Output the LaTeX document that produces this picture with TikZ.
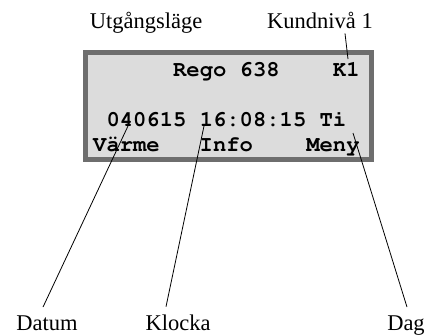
\documentclass[tikz,border=0pt]{standalone}
\usepackage[T1,TU]{fontenc}
\usepackage{fontspec}
\setmainfont{Liberation Serif}
\newcommand\lcdfont{\fontencoding{T1}\fontfamily{pcr}\fontseries{b}\selectfont}
\definecolor{lcdback}{HTML}{DCDCDC}
\definecolor{lcdframe}{HTML}{6E6E6E}

\begin{document}
\begin{tikzpicture}[
            x=1pt,y=-1pt,
            caption/.style={font=\fontsize{22.5}{26}\selectfont,inner sep=0pt,anchor=base},
            lcdrow/.style={font=\fontsize{22.2}{25}\lcdfont,inner sep=0pt,anchor=base west},
            pointer/.style={line width=0.8pt}
        ]
            \useasboundingbox (0,0) rectangle (426,335);

            % display
            \draw [lcdframe,line width=5pt,fill=lcdback] (85.5,52.5) rectangle (371.5,159.5);
            \node[lcdrow] (row1) at (93,76) {~~~~~~Rego~638~~~~K1};
            \node[lcdrow] (row2) at (93,126) {~040615~16:08:15~Ti};
            \node[lcdrow] (row3) at (93,151) {Värme~~~Info~~~~Meny};

            % captions
            \node[caption] (utg) at (146,28) {Utgångsläge};
            \node[caption] (kund) at (320,28) {Kundnivå 1};
            \node[caption] (datum) at (47,330) {Datum};
            \node[caption] (klocka) at (178,330) {Klocka};
            \node[caption] (dag) at (406,330) {Dag};

            \coordinate (pkund) at (348,59);
            \coordinate (pdatum) at (128,126);
            \coordinate (pklocka) at (204,126);
            \coordinate (pdag) at (353,133);

            \draw [pointer] ([xshift=25pt,yshift=-5pt]kund.south) -- (pkund);
            \draw [pointer] (pdatum) -- ([xshift=-4pt,yshift=8pt]datum.north);
            \draw [pointer] (pklocka) -- ([xshift=-12pt,yshift=7.5pt]klocka.north);
            \draw [pointer] (pdag) -- ([xshift=1pt,yshift=8pt]dag.north);
        \end{tikzpicture}
\end{document}
